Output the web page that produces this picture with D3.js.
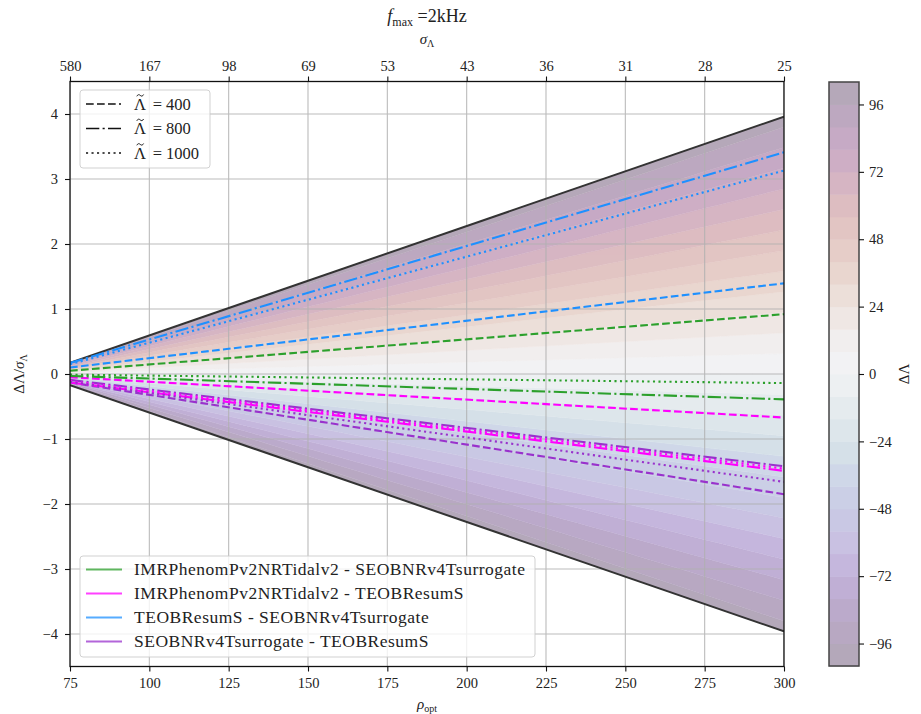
<!DOCTYPE html>
<html>
<head>
<meta charset="utf-8">
<script src="https://cdn.jsdelivr.net/npm/d3@7"></script>
<style>
  html, body { margin: 0; padding: 0; background: #fff; }
  svg text { font-family: "Liberation Serif", "DejaVu Serif", serif; fill: #222; }
</style>
</head>
<body>
<svg id="chart" width="921" height="714"></svg>
<script>
// Bottom axis: optimal SNR; top axis: matching sigma_Lambda labels
const rhoTicks = [75, 100, 125, 150, 175, 200, 225, 250, 275, 300];
const sigmaLabels = ["580", "167", "98", "69", "53", "43", "36", "31", "28", "25"];
const yTicks = [-4, -3, -2, -1, 0, 1, 2, 3, 4];
const cbTicks = [-96, -72, -48, -24, 0, 24, 48, 72, 96];

// Contour levels of Delta Lambda and the filled range limit
const levels = d3.range(-104, 105, 8);
const deltaMax = 100;
const bandColors = [
  "#b4a8ba", "#b8a8c2", "#bbaacb", "#c0afd5", "#c5b7dd", "#c9c1e2", "#c9c8e4",
  "#cbcfe6", "#cfd7e8", "#d5e0e8", "#dde6eb", "#e5ebee", "#edf0f2",
  "#f2f2f4", "#f1eeee", "#efe7e4", "#ecdfd9", "#e9d6cf", "#e6cdc8", "#e2c5c3",
  "#ddbdc1", "#d6b5c3", "#ceaec5", "#c6aac5", "#bda8c0", "#b5a8b9"
];

// Envelope |Delta Lambda| = 100 in units of sigma_Lambda
const envRho = [75, 300];
const envUpper = [0.172, 3.96];

// Model pairs, their colours, and Delta Lambda / sigma_Lambda at rho = 75 and 300
const models = [
  "IMRPhenomPv2NRTidalv2 - SEOBNRv4Tsurrogate",
  "IMRPhenomPv2NRTidalv2 - TEOBResumS",
  "TEOBResumS - SEOBNRv4Tsurrogate",
  "SEOBNRv4Tsurrogate - TEOBResumS"
];
const modelColors = ["#2ca02c", "#ff00ff", "#1e90ff", "#9932cc"];
const lambdaValues = [400, 800, 1000];
const lineRho = [75, 300];
const lambda400 = [[0.05, 0.92], [-0.05, -0.67], [0.10, 1.395], [-0.13, -1.85]];
const lambda800 = [[-0.03, -0.39], [-0.13, -1.49], [0.17, 3.41], [-0.09, -1.42]];
const lambda1000 = [[-0.01, -0.14], [-0.11, -1.455], [0.15, 3.13], [-0.12, -1.66]];
const lambdaSeries = [lambda400, lambda800, lambda1000];
const dashStyles = ["7.7,3.3", "13.3,3.3,2.1,3.3", "2.1,3.4"];

const svg = d3.select("#chart");
const serif = '"Liberation Serif", "DejaVu Serif", serif';
const pLeft = 70, pRight = 784, pTop = 81.5, pBottom = 666.5;
const x = d3.scaleLinear().domain([75, 300]).range([pLeft, pRight]);
const y = d3.scaleLinear().domain([-4.5, 4.5]).range([pBottom, pTop]);
const env = d3.scaleLinear().domain(envRho).range(envUpper);

const defs = svg.append("defs");
defs.append("clipPath").attr("id", "plotclip")
  .append("rect").attr("x", pLeft).attr("y", pTop)
  .attr("width", pRight - pLeft).attr("height", pBottom - pTop);

const plot = svg.append("g").attr("clip-path", "url(#plotclip)");

// Filled Delta Lambda bands
const bands = d3.range(levels.length - 1).map(i => ({
  lo: Math.max(levels[i], -deltaMax),
  hi: Math.min(levels[i + 1], deltaMax),
  color: bandColors[i]
}));
const rhoFine = d3.range(75, 300.01, 5);
plot.selectAll("path.band").data(bands).join("path")
  .attr("class", "band")
  .attr("fill", d => d.color)
  .attr("stroke", d => d.color)
  .attr("stroke-width", 0.4)
  .attr("d", d => d3.area()
    .x(r => x(r))
    .y0(r => y(d.lo / deltaMax * env(r)))
    .y1(r => y(d.hi / deltaMax * env(r)))(rhoFine));

// Grid
const grid = plot.append("g").attr("stroke", "#b0b0b0").attr("stroke-width", 1.1).attr("opacity", 0.85);
grid.selectAll("line.gx").data(rhoTicks).join("line")
  .attr("x1", d => x(d)).attr("x2", d => x(d)).attr("y1", pTop).attr("y2", pBottom);
grid.selectAll("line.gy").data(yTicks).join("line")
  .attr("x1", pLeft).attr("x2", pRight).attr("y1", d => y(d)).attr("y2", d => y(d));

// Envelope edges
[1, -1].forEach(s => {
  plot.append("path")
    .attr("fill", "none").attr("stroke", "#333").attr("stroke-width", 2)
    .attr("d", d3.line().x(r => x(r)).y(r => y(s * env(r)))(envRho));
});

// Model difference lines
const lineGen = d3.line().x(d => x(d[0])).y(d => y(d[1]));
lambdaSeries.forEach((series, li) => {
  series.forEach((vals, mi) => {
    plot.append("path")
      .attr("fill", "none")
      .attr("stroke", modelColors[mi])
      .attr("stroke-width", 2.1)
      .attr("stroke-dasharray", dashStyles[li])
      .attr("d", lineGen(lineRho.map((r, k) => [r, vals[k]])));
  });
});

// Frame
svg.append("rect").attr("x", pLeft).attr("y", pTop)
  .attr("width", pRight - pLeft).attr("height", pBottom - pTop)
  .attr("fill", "none").attr("stroke", "#111").attr("stroke-width", 1.3);

// Axes
const axisStyle = g => {
  g.attr("font-family", null).attr("font-size", null);
  g.select(".domain").remove();
  g.selectAll(".tick line").attr("stroke", "#111").attr("stroke-width", 1.1);
  g.selectAll(".tick text").style("font-family", serif)
    .style("font-size", "14.5px").attr("fill", "#222");
};
svg.append("g").attr("transform", `translate(0,${pBottom})`)
  .call(d3.axisBottom(x).tickValues(rhoTicks).tickSize(5).tickPadding(6).tickFormat(d3.format("d")))
  .call(axisStyle);
svg.append("g").attr("transform", `translate(0,${pTop})`)
  .call(d3.axisTop(x).tickValues(rhoTicks).tickSize(5).tickPadding(6)
    .tickFormat((d, i) => sigmaLabels[i]))
  .call(axisStyle);
svg.append("g").attr("transform", `translate(${pLeft},0)`)
  .call(d3.axisLeft(y).tickValues(yTicks).tickSize(5).tickPadding(7)
    .tickFormat(d => d < 0 ? "\u2212" + Math.abs(d) : String(d)))
  .call(axisStyle);

// Axis labels and title
const midX = (pLeft + pRight) / 2;
const xl = svg.append("text").attr("x", midX).attr("y", 709).attr("text-anchor", "middle").attr("font-size", 15);
xl.append("tspan").attr("font-style", "italic").text("ρ");
xl.append("tspan").attr("font-size", 10).attr("dy", 3).text("opt");

const tl = svg.append("text").attr("x", midX).attr("y", 44).attr("text-anchor", "middle").attr("font-size", 15);
tl.append("tspan").attr("font-style", "italic").text("σ");
tl.append("tspan").attr("font-size", 10).attr("dy", 3).text("Λ");

const title = svg.append("text").attr("x", midX).attr("y", 22).attr("text-anchor", "middle").attr("font-size", 18);
title.append("tspan").attr("font-style", "italic").text("f");
title.append("tspan").attr("font-size", 12).attr("dy", 4).text("max");
title.append("tspan").attr("dy", -4).text(" =2kHz");

const yl = svg.append("text").attr("transform", `translate(24,${y(0)}) rotate(-90)`)
  .attr("text-anchor", "middle").attr("font-size", 15);
yl.append("tspan").text("ΔΛ/");
yl.append("tspan").attr("font-style", "italic").text("σ");
yl.append("tspan").attr("font-size", 10).attr("dy", 3).text("Λ");

// Line-style legend
const leg1 = svg.append("g");
leg1.append("rect").attr("x", 80).attr("y", 90).attr("width", 130).attr("height", 78)
  .attr("rx", 3).attr("fill", "#fff").attr("fill-opacity", 0.8)
  .attr("stroke", "#ccc").attr("stroke-opacity", 0.9);
lambdaValues.forEach((lv, i) => {
  const yy = 104 + i * 24.5;
  leg1.append("line").attr("x1", 86).attr("x2", 121).attr("y1", yy).attr("y2", yy)
    .attr("stroke", "#111").attr("stroke-width", 1.6).attr("stroke-dasharray", dashStyles[i]);
  const t = leg1.append("text").attr("x", 134).attr("y", yy + 5.5).attr("font-size", 16.5);
  t.append("tspan").text("Λ");
  t.append("tspan").text(" = " + lv).attr("dx", 3);
  // tilde accent over the Lambda
  leg1.append("path")
    .attr("transform", `translate(140.2,${yy - 8.6})`)
    .attr("d", "M-3.4,0.9 C-2.4,-1.1 -1.2,-1.1 0,0 S2.4,1.1 3.4,-0.9")
    .attr("fill", "none").attr("stroke", "#222").attr("stroke-width", 1);
});

// Model legend
const leg2 = svg.append("g");
leg2.append("rect").attr("x", 80).attr("y", 556).attr("width", 455).attr("height", 101)
  .attr("rx", 3).attr("fill", "#fff").attr("fill-opacity", 0.8)
  .attr("stroke", "#ccc").attr("stroke-opacity", 0.9);
models.forEach((m, i) => {
  const yy = 569.5 + i * 24;
  leg2.append("line").attr("x1", 86).attr("x2", 122).attr("y1", yy).attr("y2", yy)
    .attr("stroke", modelColors[i]).attr("stroke-width", 2).attr("stroke-opacity", 0.75);
  leg2.append("text").attr("x", 134).attr("y", yy + 5.5).attr("font-size", 17.5)
    .attr("letter-spacing", 0.5).text(m);
});

// Colorbar
const cbX = 829, cbW = 30;
const cy = d3.scaleLinear().domain([-104, 104]).range([666, 82]);
const cb = svg.append("g");
cb.selectAll("rect.cb").data(d3.range(levels.length - 1)).join("rect")
  .attr("x", cbX).attr("width", cbW)
  .attr("y", i => cy(levels[i + 1]))
  .attr("height", i => cy(levels[i]) - cy(levels[i + 1]) + 0.5)
  .attr("fill", i => bandColors[i]);
cb.append("rect").attr("x", cbX).attr("y", cy(104)).attr("width", cbW).attr("height", cy(-104) - cy(104))
  .attr("fill", "none").attr("stroke", "#444").attr("stroke-width", 1.5);
svg.append("g").attr("transform", `translate(${cbX + cbW},0)`)
  .call(d3.axisRight(cy).tickValues(cbTicks).tickSize(5).tickPadding(5)
    .tickFormat(d => d < 0 ? "\u2212" + Math.abs(d) : String(d)))
  .call(axisStyle);
svg.append("text").attr("transform", `translate(909,${cy(0)}) rotate(-90)`)
  .attr("text-anchor", "middle").attr("font-size", 15).text("ΔΛ");
</script>
</body>
</html>
